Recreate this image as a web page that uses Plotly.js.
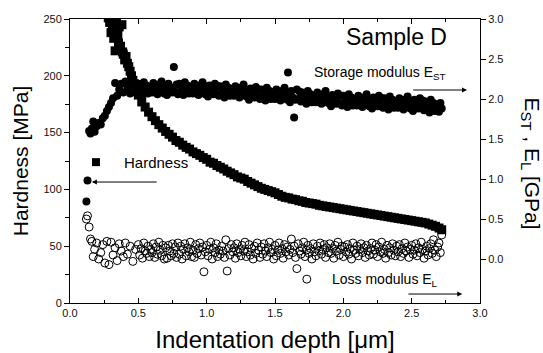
<!DOCTYPE html>
<html>
<head>
<meta charset="utf-8">
<script src="https://cdn.plot.ly/plotly-3.0.1.min.js"></script>
<style>html,body{margin:0;padding:0;background:#fff;}#chart{width:543px;height:353px;}</style>
</head>
<body>
<div id="chart"></div>
<script>
// Hardness [MPa] vs indentation depth [um]
const hardDepth = [0.28,0.29,0.30,0.31,0.32,0.33,0.34,0.35,0.355,0.36,0.37,0.38,0.385,0.39,0.40,0.41,0.42,0.43,0.44,0.45,0.46,0.47,0.48,0.49,
0.500,0.525,0.550,0.575,0.600,0.625,0.650,0.675,0.700,0.725,
0.750,0.775,0.800,0.825,0.850,0.875,0.900,0.925,0.950,0.975,
1.000,1.025,1.050,1.075,1.100,1.125,1.150,1.175,1.200,1.225,
1.250,1.275,1.300,1.325,1.350,1.375,1.400,1.425,1.450,1.475,
1.500,1.525,1.550,1.575,1.600,1.625,1.650,1.675,1.700,1.725,
1.750,1.775,1.800,1.825,1.850,1.875,1.900,1.925,1.950,1.975,
2.000,2.025,2.050,2.075,2.100,2.125,2.150,2.175,2.200,2.225,
2.250,2.275,2.300,2.325,2.350,2.375,2.400,2.425,2.450,2.475,
2.500,2.525,2.550,2.575,2.600,2.625,2.650,2.675,2.700,2.720];
const hardness = [251,247,238,244,233,222,246,236,229,243,226,245,221,219,214,217,211,208,204,200,196,193,189,186,
183,177,172.5,168,164,160.5,157,154,151,148.5,
146,143,141.5,139,137,135.5,133,131.5,130,128,
126.5,124,123,121,119.5,118,116,114.5,113,111,
110,109,107,105.5,104,102.5,101,100,99,98,
97,95.5,94,93,92.5,91.5,91,90,89.5,88.5,
88,87.5,87,86,85.5,85,84.5,84,83.5,83,
82.5,82,81.5,81,80.5,80,79.5,79,78.5,78,
77.5,77,76.5,76,75.5,75,74.5,74,73.5,73,
72.5,72,71.5,71,70.5,69.5,68.5,67.5,66,64.5];

// Storage and loss modulus [GPa] vs indentation depth [um]
const modDepth = [0.120,0.128,0.140,0.150,0.160,0.170,0.180,0.195,0.210,0.225,0.240,0.255,0.270,0.285,0.300,0.315,0.330,0.345,0.360,0.375,0.390,0.405,0.420,0.440,0.460,0.480,
0.50,0.51,0.52,0.53,0.54,0.55,0.56,0.57,0.58,0.59,
0.60,0.61,0.62,0.63,0.64,0.65,0.66,0.67,0.68,0.69,
0.70,0.71,0.72,0.73,0.74,0.75,0.76,0.77,0.78,0.79,
0.80,0.81,0.82,0.83,0.84,0.85,0.86,0.87,0.88,0.89,
0.90,0.91,0.92,0.93,0.94,0.95,0.96,0.97,0.98,0.99,
1.00,1.01,1.02,1.03,1.04,1.05,1.06,1.07,1.08,1.09,
1.10,1.11,1.12,1.13,1.14,1.15,1.16,1.17,1.18,1.19,
1.20,1.21,1.22,1.23,1.24,1.25,1.26,1.27,1.28,1.29,
1.30,1.31,1.32,1.33,1.34,1.35,1.36,1.37,1.38,1.39,
1.40,1.41,1.42,1.43,1.44,1.45,1.46,1.47,1.48,1.49,
1.50,1.51,1.52,1.53,1.54,1.55,1.56,1.57,1.58,1.59,
1.60,1.61,1.62,1.63,1.64,1.65,1.66,1.67,1.68,1.69,
1.70,1.71,1.72,1.73,1.74,1.75,1.76,1.77,1.78,1.79,
1.80,1.81,1.82,1.83,1.84,1.85,1.86,1.87,1.88,1.89,
1.90,1.91,1.92,1.93,1.94,1.95,1.96,1.97,1.98,1.99,
2.00,2.01,2.02,2.03,2.04,2.05,2.06,2.07,2.08,2.09,
2.10,2.11,2.12,2.13,2.14,2.15,2.16,2.17,2.18,2.19,
2.20,2.21,2.22,2.23,2.24,2.25,2.26,2.27,2.28,2.29,
2.30,2.31,2.32,2.33,2.34,2.35,2.36,2.37,2.38,2.39,
2.40,2.41,2.42,2.43,2.44,2.45,2.46,2.47,2.48,2.49,
2.50,2.51,2.52,2.53,2.54,2.55,2.56,2.57,2.58,2.59,
2.60,2.61,2.62,2.63,2.64,2.65,2.66,2.67,2.68,2.69,
2.70,2.71,2.72];
const storage = [0.72,0.98,1.60,1.57,1.63,1.72,1.59,1.66,1.70,1.68,1.76,1.79,1.85,1.90,1.95,2.01,2.20,2.04,2.12,2.19,2.08,2.22,2.14,2.07,2.18,2.10,
2.19,2.09,2.14,2.05,2.21,2.11,2.17,2.07,2.15,2.12,
2.08,2.20,2.12,2.16,2.06,2.18,2.10,2.22,2.13,2.07,
2.16,2.05,2.19,2.11,2.14,2.08,2.40,2.09,2.18,2.06,
2.19,2.09,2.14,2.05,2.21,2.11,2.17,2.07,2.15,2.12,
2.07,2.19,2.11,2.15,2.05,2.17,2.09,2.21,2.12,2.06,
2.14,2.03,2.17,2.09,2.12,2.06,2.19,2.07,2.16,2.04,
2.16,2.06,2.11,2.02,2.18,2.08,2.14,2.04,2.12,2.09,
2.04,2.16,2.08,2.12,2.02,2.14,2.06,2.18,2.09,2.03,
2.10,1.99,2.13,2.05,2.08,2.02,2.15,2.03,2.12,2.00,
2.12,2.02,2.07,1.98,2.14,2.04,2.10,2.00,2.08,2.05,
2.00,2.12,2.04,2.08,1.98,2.10,2.02,2.14,2.05,1.99,
2.07,1.96,2.10,2.02,1.77,1.99,2.12,2.00,2.09,1.97,
2.08,1.98,2.03,1.94,2.10,2.00,2.06,1.96,2.04,2.01,
1.96,2.08,2.00,2.04,1.94,2.06,1.98,2.10,2.01,1.95,
2.02,1.91,2.05,1.97,2.00,1.94,2.07,1.95,2.04,1.92,
2.04,1.94,1.99,1.90,2.06,1.96,2.02,1.92,2.00,1.97,
1.92,2.04,1.96,2.00,1.90,2.02,1.94,2.06,1.97,1.91,
1.99,1.88,2.02,1.94,1.97,1.91,2.04,1.92,2.01,1.89,
2.01,1.91,1.96,1.87,2.03,1.93,1.99,1.89,1.97,1.94,
1.89,2.01,1.93,1.97,1.87,1.99,1.91,2.03,1.94,1.88,
1.96,1.85,1.99,1.91,1.94,1.88,2.01,1.89,1.98,1.86,
1.97,1.87,1.92,1.83,1.99,1.89,1.95,1.85,1.93,1.90,
1.84,1.95,1.88];
const loss = [0.50,0.54,0.40,0.25,0.22,0.03,0.12,0.20,0.00,0.08,0.18,-0.05,0.22,-0.07,0.21,0.05,0.14,-0.02,0.19,0.10,0.03,0.20,0.06,0.16,-0.03,0.12,
0.18,0.05,0.13,0.01,0.20,0.10,0.07,0.16,0.03,0.12,
0.08,0.19,0.02,0.15,0.06,0.21,0.11,0.04,0.17,0.00,
0.14,0.01,0.17,0.10,0.04,0.19,0.07,0.15,0.02,0.20,
0.06,0.16,0.00,0.12,0.19,0.04,0.14,0.09,0.21,0.03,
0.11,0.02,0.18,0.07,0.13,0.20,0.05,0.15,-0.16,0.09,
0.17,0.04,0.12,0.21,0.00,0.14,0.08,0.19,0.03,0.11,
0.06,0.16,0.10,0.02,0.24,-0.15,0.13,0.05,0.18,0.09,
0.14,0.01,0.19,0.08,0.12,0.04,0.17,0.10,0.21,0.03,
0.09,0.18,0.05,0.13,0.00,0.16,0.07,0.20,0.11,0.02,
0.15,0.06,0.19,0.10,0.03,0.14,0.21,0.08,0.12,0.00,
0.17,0.04,0.11,0.20,0.07,0.13,0.01,0.18,0.09,0.15,
0.05,0.12,0.25,0.08,0.16,0.02,-0.12,0.19,0.10,0.06,
0.14,0.21,0.03,0.11,0.17,0.07,0.13,0.00,0.19,0.09,
0.04,0.16,0.10,0.20,0.06,0.12,0.18,0.02,0.14,0.08,
0.19,0.07,0.13,0.01,0.17,0.10,0.21,0.05,0.12,0.16,
0.03,0.15,0.09,0.18,0.06,0.13,0.00,0.20,0.11,0.07,
0.16,0.04,0.12,0.19,0.08,0.14,0.02,0.17,0.10,0.05,
0.13,0.20,0.06,0.11,0.18,0.03,0.15,0.09,0.21,0.07,
0.12,0.01,0.17,0.08,0.14,0.05,0.19,0.11,0.04,0.16,
0.09,0.18,0.03,0.13,0.07,0.20,0.10,0.15,0.02,0.12,
0.17,0.06,0.11,0.19,0.04,0.14,0.08,0.21,0.12,0.01,
0.10,0.16,0.05,0.13,0.19,0.07,0.24,0.11,0.03,0.15,
0.20,0.08,0.30];

const xTicks = [0, 0.5, 1.0, 1.5, 2.0, 2.5, 3.0];
const yTicks = [0, 50, 100, 150, 200, 250];
const y2Ticks = [0, 0.5, 1.0, 1.5, 2.0, 2.5, 3.0];

const FONT = "'Liberation Sans', Arial, Helvetica, sans-serif";

const traces = [
  {x: hardDepth, y: hardness, type: 'scatter', mode: 'markers', name: 'Hardness',
   marker: {symbol: 'square', size: 9, color: '#000', line: {width: 0}}, yaxis: 'y', cliponaxis: true},
  {x: modDepth, y: storage, type: 'scatter', mode: 'markers', name: 'Storage modulus',
   marker: {symbol: 'circle', size: 8, color: '#000', line: {width: 0}}, yaxis: 'y2', cliponaxis: true},
  {x: modDepth, y: loss, type: 'scatter', mode: 'markers', name: 'Loss modulus',
   marker: {symbol: 'circle-open', size: 8, color: '#000', line: {width: 1, color: '#000'}}, yaxis: 'y2', cliponaxis: true}
];

const keyShape = (type, x, y, filled) => ({
  type: type, xref: 'x', yref: 'y', xsizemode: 'pixel', ysizemode: 'pixel',
  xanchor: x, yanchor: y, x0: -4, x1: 4, y0: -4, y1: 4,
  fillcolor: filled ? '#000' : 'rgba(0,0,0,0)',
  line: {color: '#000', width: filled ? 0 : 1}
});

const layout = {
  width: 543, height: 353,
  margin: {l: 70, r: 63, t: 19, b: 50, pad: 0},
  paper_bgcolor: '#fff', plot_bgcolor: '#fff',
  showlegend: false,
  font: {family: FONT, size: 11, color: '#000'},
  xaxis: {
    range: [0, 3], tickvals: xTicks, tickformat: '.1f',
    ticks: 'inside', ticklen: 5, tickwidth: 1, tickcolor: '#000',
    minor: {dtick: 0.25, tick0: 0, ticks: 'inside', ticklen: 3, tickcolor: '#000'},
    showline: true, linecolor: '#000', linewidth: 1, mirror: 'ticks',
    showgrid: false, zeroline: false,
    tickfont: {family: FONT, size: 11, color: '#111'},
    title: {text: 'Indentation depth [μm]', font: {family: FONT, size: 24, color: '#000'}, standoff: 16}
  },
  yaxis: {
    range: [0, 250], tickvals: yTicks,
    ticks: 'outside', ticklen: 5, tickwidth: 1, tickcolor: '#000',
    minor: {dtick: 25, tick0: 0, ticks: 'outside', ticklen: 4, tickcolor: '#000'},
    showline: true, linecolor: '#000', linewidth: 1,
    showgrid: false, zeroline: false,
    tickfont: {family: FONT, size: 11, color: '#111'},
    title: {text: 'Hardness [MPa]', font: {family: FONT, size: 21, color: '#000'}, standoff: 9}
  },
  yaxis2: {
    overlaying: 'y', side: 'right',
    range: [-0.55, 3.0], tickvals: y2Ticks, tickformat: '.1f',
    ticks: 'outside', ticklen: 5, tickwidth: 1, tickcolor: '#000',
    showline: true, linecolor: '#000', linewidth: 1,
    showgrid: false, zeroline: false,
    tickfont: {family: FONT, size: 11, color: '#111'}
  },
  shapes: [
    keyShape('rect', 0.19, 124, true),
    keyShape('circle', 1.595, 203, true),
    keyShape('circle', 1.733, 21, false)
  ],
  annotations: [
    {xref: 'paper', yref: 'paper', x: 1.125, y: 0.49, xanchor: 'center', yanchor: 'middle',
     text: 'E<sub>ST</sub> , E<sub>L</sub> [GPa]', textangle: 90, showarrow: false,
     font: {family: FONT, size: 21, color: '#000'}},
    {xref: 'x', yref: 'y', x: 2.39, y: 234, text: 'Sample D', showarrow: false,
     xanchor: 'center', yanchor: 'middle', font: {family: FONT, size: 23, color: '#000'}},
    {xref: 'x', yref: 'y', x: 0.38, y: 124, text: 'Hardness', showarrow: false,
     xanchor: 'left', yanchor: 'middle', font: {family: FONT, size: 15, color: '#000'}},
    {xref: 'x', yref: 'y', x: 0.16, y: 106.5, ax: 0.645, ay: 106.5, axref: 'x', ayref: 'y',
     text: '', showarrow: true, arrowhead: 2, arrowsize: 1, arrowwidth: 1, arrowcolor: '#000'},
    {xref: 'x', yref: 'y', x: 1.77, y: 202.5, text: 'Storage modulus E<sub>ST</sub>', showarrow: false,
     xanchor: 'left', yanchor: 'middle', font: {family: FONT, size: 14, color: '#000'}},
    {xref: 'x', yref: 'y', x: 2.905, y: 187.5, ax: 2.50, ay: 187.5, axref: 'x', ayref: 'y',
     text: '', showarrow: true, arrowhead: 2, arrowsize: 1, arrowwidth: 1, arrowcolor: '#000'},
    {xref: 'x', yref: 'y', x: 1.90, y: 20.2, text: 'Loss modulus E<sub>L</sub>', showarrow: false,
     xanchor: 'left', yanchor: 'middle', font: {family: FONT, size: 14, color: '#000'}},
    {xref: 'x', yref: 'y', x: 2.87, y: 7.9, ax: 2.465, ay: 7.9, axref: 'x', ayref: 'y',
     text: '', showarrow: true, arrowhead: 2, arrowsize: 1, arrowwidth: 1, arrowcolor: '#000'}
  ]
};

Plotly.newPlot('chart', traces, layout, {staticPlot: true, displayModeBar: false});
</script>
</body>
</html>
